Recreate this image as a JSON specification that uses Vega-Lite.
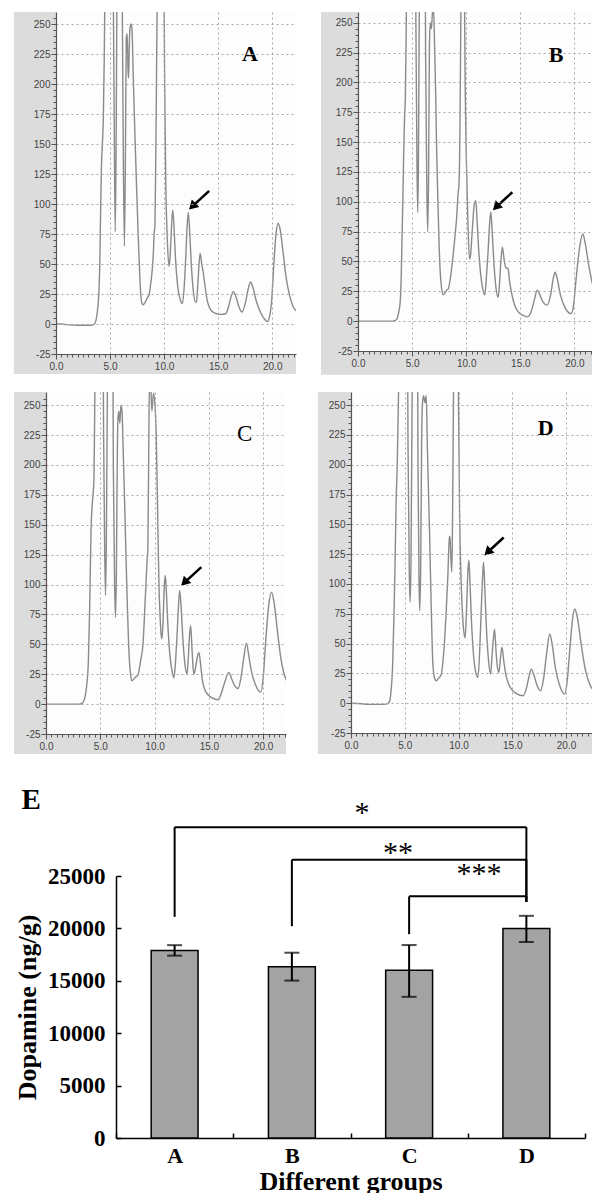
{
  "$schema": "https://vega.github.io/schema/vega-lite/v6.json",
  "padding": {"left": 13, "top": 11, "right": 0, "bottom": 0},
  "background": "white",
  "config": {"view": {"stroke": null}},
  "datasets": {
    "A": [
      {"t":0,"v":0},{"t":0.5,"v":0},{"t":1,"v":-0.5},{"t":2,"v":-1},{"t":3,"v":-1},{"t":3.4,"v":-0.8},{"t":3.6,"v":0.5},{"t":3.74,"v":5},{"t":3.88,"v":15},{"t":3.96,"v":25},{"t":4.05,"v":50},{"t":4.12,"v":90},{"t":4.2,"v":130},{"t":4.3,"v":152},{"t":4.38,"v":172},{"t":4.46,"v":220},{"t":4.55,"v":300},{"t":4.7,"v":400},
      {"t":5.2,"v":400},{"t":5.3,"v":280},{"t":5.4,"v":150},{"t":5.48,"v":77},{"t":5.56,"v":150},{"t":5.64,"v":280},{"t":5.75,"v":400},{"t":6.05,"v":400},{"t":6.12,"v":280},{"t":6.22,"v":150},{"t":6.33,"v":65},{"t":6.43,"v":150},{"t":6.5,"v":238},{"t":6.58,"v":242},{"t":6.66,"v":212},{"t":6.72,"v":205},{"t":6.78,"v":232},{"t":6.86,"v":248},{"t":6.95,"v":250},{"t":7.03,"v":245},{"t":7.15,"v":205},{"t":7.3,"v":158},{"t":7.45,"v":115},{"t":7.6,"v":75},{"t":7.75,"v":40},{"t":7.9,"v":19},{"t":8.05,"v":16},{"t":8.25,"v":18},{"t":8.45,"v":22},{"t":8.6,"v":24},{"t":8.75,"v":33},{"t":8.9,"v":45},{"t":9.0,"v":58},{"t":9.08,"v":76},{"t":9.14,"v":80},{"t":9.22,"v":130},{"t":9.32,"v":230},{"t":9.42,"v":320},{"t":9.6,"v":400},
      {"t":9.85,"v":400},{"t":9.98,"v":300},{"t":10.05,"v":200},{"t":10.15,"v":120},{"t":10.3,"v":70},{"t":10.45,"v":48},{"t":10.55,"v":55},{"t":10.68,"v":80},{"t":10.8,"v":95},{"t":10.92,"v":80},{"t":11.05,"v":55},{"t":11.25,"v":32},{"t":11.5,"v":20},{"t":11.7,"v":17},{"t":11.85,"v":30},{"t":12.0,"v":55},{"t":12.12,"v":80},{"t":12.24,"v":93},{"t":12.36,"v":78},{"t":12.5,"v":52},{"t":12.7,"v":28},{"t":12.9,"v":18},{"t":13.0,"v":19},{"t":13.15,"v":38},{"t":13.33,"v":59},{"t":13.48,"v":50},{"t":13.62,"v":43},{"t":13.78,"v":32},{"t":14.0,"v":19},{"t":14.3,"v":12},{"t":14.7,"v":9},{"t":15.2,"v":8},{"t":15.7,"v":8.5},{"t":15.95,"v":14},{"t":16.2,"v":23},{"t":16.4,"v":27},{"t":16.6,"v":24},{"t":16.9,"v":15},{"t":17.2,"v":10},{"t":17.5,"v":17},{"t":17.8,"v":30},{"t":18.0,"v":35},{"t":18.2,"v":31},{"t":18.5,"v":20},{"t":18.9,"v":10},{"t":19.3,"v":4},{"t":19.55,"v":2},{"t":19.75,"v":6},{"t":19.95,"v":20},{"t":20.15,"v":50},{"t":20.35,"v":75},{"t":20.55,"v":84},{"t":20.75,"v":78},{"t":21.0,"v":60},{"t":21.3,"v":38},{"t":21.6,"v":24},{"t":21.9,"v":15},{"t":22.2,"v":11}
    ],
    "B": [
      {"t":0,"v":0},{"t":1,"v":0},{"t":2,"v":0},{"t":3,"v":0},{"t":3.4,"v":0.5},{"t":3.6,"v":2},{"t":3.75,"v":7},{"t":3.9,"v":16},{"t":4.0,"v":40},{"t":4.07,"v":70},{"t":4.14,"v":100},{"t":4.22,"v":140},{"t":4.3,"v":170},{"t":4.38,"v":190},{"t":4.45,"v":240},{"t":4.52,"v":320},{"t":4.7,"v":400},
      {"t":5.25,"v":400},{"t":5.35,"v":250},{"t":5.45,"v":130},{"t":5.52,"v":91},{"t":5.58,"v":130},{"t":5.66,"v":260},{"t":5.8,"v":400},{"t":6.15,"v":400},{"t":6.25,"v":220},{"t":6.36,"v":110},{"t":6.44,"v":75},{"t":6.52,"v":120},{"t":6.6,"v":230},{"t":6.68,"v":250},{"t":6.78,"v":245},{"t":6.88,"v":258},{"t":6.98,"v":262},{"t":7.08,"v":230},{"t":7.18,"v":190},{"t":7.27,"v":142},{"t":7.4,"v":95},{"t":7.5,"v":62},{"t":7.58,"v":44},{"t":7.72,"v":28},{"t":7.88,"v":22},{"t":8.05,"v":24},{"t":8.2,"v":26},{"t":8.34,"v":27},{"t":8.5,"v":34},{"t":8.65,"v":44},{"t":8.8,"v":56},{"t":8.95,"v":70},{"t":9.11,"v":86},{"t":9.26,"v":108},{"t":9.33,"v":114},{"t":9.42,"v":160},{"t":9.5,"v":250},{"t":9.57,"v":320},{"t":9.7,"v":400},
      {"t":9.82,"v":300},{"t":9.9,"v":200},{"t":10.0,"v":140},{"t":10.15,"v":85},{"t":10.3,"v":52},{"t":10.4,"v":55},{"t":10.55,"v":75},{"t":10.75,"v":98},{"t":10.89,"v":101},{"t":11.0,"v":85},{"t":11.15,"v":60},{"t":11.35,"v":38},{"t":11.55,"v":26},{"t":11.72,"v":22},{"t":11.85,"v":35},{"t":12.0,"v":55},{"t":12.15,"v":80},{"t":12.27,"v":91.5},{"t":12.4,"v":75},{"t":12.55,"v":50},{"t":12.75,"v":28},{"t":12.94,"v":20},{"t":13.05,"v":28},{"t":13.2,"v":50},{"t":13.34,"v":62},{"t":13.5,"v":52},{"t":13.65,"v":45},{"t":13.87,"v":44},{"t":14.0,"v":34},{"t":14.17,"v":24.5},{"t":14.45,"v":14},{"t":14.79,"v":8},{"t":15.2,"v":5},{"t":15.7,"v":3.6},{"t":16.0,"v":8},{"t":16.3,"v":18},{"t":16.56,"v":26},{"t":16.8,"v":22},{"t":17.1,"v":16},{"t":17.48,"v":13.4},{"t":17.8,"v":22},{"t":18.05,"v":36},{"t":18.22,"v":41},{"t":18.4,"v":36},{"t":18.7,"v":22},{"t":19.1,"v":12},{"t":19.69,"v":6.4},{"t":19.9,"v":12},{"t":20.15,"v":35},{"t":20.45,"v":60},{"t":20.77,"v":73},{"t":21.0,"v":65},{"t":21.3,"v":48},{"t":21.55,"v":36},{"t":21.78,"v":27},{"t":21.9,"v":24}
    ],
    "C": [
      {"t":0,"v":0},{"t":1,"v":0},{"t":2,"v":0},{"t":3,"v":0},{"t":3.3,"v":0.5},{"t":3.54,"v":4},{"t":3.7,"v":12},{"t":3.9,"v":35},{"t":4.02,"v":80},{"t":4.15,"v":147},{"t":4.25,"v":166},{"t":4.37,"v":180},{"t":4.42,"v":191},{"t":4.48,"v":240},{"t":4.55,"v":320},{"t":4.7,"v":400},
      {"t":5.2,"v":400},{"t":5.3,"v":230},{"t":5.4,"v":130},{"t":5.48,"v":91},{"t":5.55,"v":130},{"t":5.65,"v":260},{"t":5.8,"v":400},{"t":6.1,"v":400},{"t":6.2,"v":200},{"t":6.32,"v":100},{"t":6.4,"v":72.6},{"t":6.48,"v":110},{"t":6.56,"v":200},{"t":6.62,"v":238},{"t":6.7,"v":245},{"t":6.8,"v":235},{"t":6.9,"v":250},{"t":7.0,"v":245},{"t":7.1,"v":215},{"t":7.25,"v":165},{"t":7.38,"v":119},{"t":7.5,"v":80},{"t":7.6,"v":52},{"t":7.69,"v":35},{"t":7.8,"v":24},{"t":7.9,"v":19.5},{"t":8.1,"v":21},{"t":8.3,"v":23},{"t":8.46,"v":24},{"t":8.6,"v":30},{"t":8.75,"v":38},{"t":8.92,"v":49},{"t":9.05,"v":70},{"t":9.15,"v":90},{"t":9.23,"v":105},{"t":9.32,"v":121.5},{"t":9.38,"v":130},{"t":9.45,"v":200},{"t":9.54,"v":280},{"t":9.65,"v":266},{"t":9.75,"v":245},{"t":9.9,"v":260},{"t":10.05,"v":248},{"t":10.15,"v":225},{"t":10.3,"v":150},{"t":10.4,"v":100},{"t":10.5,"v":75},{"t":10.6,"v":58},{"t":10.68,"v":54.5},{"t":10.78,"v":70},{"t":10.9,"v":100},{"t":10.98,"v":107.5},{"t":11.08,"v":95},{"t":11.2,"v":70},{"t":11.4,"v":42},{"t":11.6,"v":28},{"t":11.78,"v":22},{"t":11.9,"v":32},{"t":12.05,"v":55},{"t":12.2,"v":82},{"t":12.31,"v":95},{"t":12.45,"v":80},{"t":12.6,"v":55},{"t":12.8,"v":33},{"t":12.98,"v":25},{"t":13.1,"v":38},{"t":13.22,"v":58},{"t":13.32,"v":65.6},{"t":13.45,"v":45},{"t":13.55,"v":30},{"t":13.63,"v":25},{"t":13.8,"v":32},{"t":13.95,"v":40},{"t":14.09,"v":43},{"t":14.25,"v":32},{"t":14.4,"v":20},{"t":14.6,"v":12.6},{"t":14.9,"v":8},{"t":15.23,"v":5.6},{"t":15.85,"v":3.6},{"t":16.1,"v":8},{"t":16.45,"v":18},{"t":16.83,"v":26.5},{"t":17.1,"v":21},{"t":17.4,"v":15},{"t":17.69,"v":13},{"t":17.95,"v":22},{"t":18.2,"v":38},{"t":18.46,"v":51},{"t":18.65,"v":42},{"t":18.9,"v":28},{"t":19.3,"v":16},{"t":19.78,"v":10},{"t":20.0,"v":22},{"t":20.25,"v":55},{"t":20.5,"v":82},{"t":20.77,"v":93.6},{"t":21.0,"v":85},{"t":21.3,"v":62},{"t":21.6,"v":40},{"t":21.9,"v":26},{"t":22.15,"v":19.5}
    ],
    "D": [
      {"t":0,"v":0},{"t":1,"v":-0.5},{"t":1.5,"v":-1},{"t":2.5,"v":-1},{"t":3.3,"v":-0.8},{"t":3.57,"v":1},{"t":3.7,"v":8},{"t":3.88,"v":34},{"t":4.0,"v":75},{"t":4.1,"v":118},{"t":4.2,"v":170},{"t":4.3,"v":200},{"t":4.36,"v":230},{"t":4.42,"v":260},{"t":4.5,"v":320},{"t":4.7,"v":400},
      {"t":5.2,"v":400},{"t":5.3,"v":220},{"t":5.42,"v":110},{"t":5.5,"v":84.6},{"t":5.58,"v":120},{"t":5.68,"v":250},{"t":5.8,"v":400},{"t":6.15,"v":400},{"t":6.23,"v":200},{"t":6.33,"v":100},{"t":6.4,"v":77.6},{"t":6.48,"v":115},{"t":6.57,"v":220},{"t":6.65,"v":252},{"t":6.75,"v":258},{"t":6.88,"v":252},{"t":7.0,"v":258},{"t":7.1,"v":215},{"t":7.2,"v":180},{"t":7.3,"v":146},{"t":7.45,"v":85},{"t":7.61,"v":34},{"t":7.75,"v":22},{"t":7.92,"v":18.8},{"t":8.15,"v":21},{"t":8.39,"v":24},{"t":8.55,"v":35},{"t":8.7,"v":52},{"t":8.85,"v":76},{"t":9.0,"v":105},{"t":9.12,"v":135},{"t":9.16,"v":140},{"t":9.22,"v":138},{"t":9.3,"v":120},{"t":9.38,"v":110},{"t":9.45,"v":160},{"t":9.55,"v":280},{"t":9.63,"v":400},
      {"t":9.9,"v":400},{"t":10.0,"v":250},{"t":10.1,"v":160},{"t":10.25,"v":100},{"t":10.4,"v":70},{"t":10.52,"v":58},{"t":10.62,"v":55},{"t":10.75,"v":80},{"t":10.88,"v":112},{"t":10.96,"v":120},{"t":11.05,"v":105},{"t":11.2,"v":70},{"t":11.4,"v":40},{"t":11.6,"v":26},{"t":11.8,"v":21.6},{"t":11.95,"v":40},{"t":12.1,"v":75},{"t":12.25,"v":108},{"t":12.33,"v":118},{"t":12.45,"v":95},{"t":12.6,"v":62},{"t":12.8,"v":35},{"t":12.98,"v":24.4},{"t":13.12,"v":40},{"t":13.25,"v":55},{"t":13.35,"v":62},{"t":13.5,"v":42},{"t":13.62,"v":30},{"t":13.76,"v":25.8},{"t":13.9,"v":38},{"t":14.04,"v":47},{"t":14.2,"v":36},{"t":14.4,"v":24},{"t":14.6,"v":17.4},{"t":14.9,"v":12},{"t":15.4,"v":8},{"t":16.0,"v":6.2},{"t":16.3,"v":12},{"t":16.55,"v":22},{"t":16.77,"v":28.6},{"t":17.0,"v":24},{"t":17.3,"v":15},{"t":17.64,"v":10.4},{"t":17.9,"v":20},{"t":18.2,"v":42},{"t":18.48,"v":58},{"t":18.7,"v":50},{"t":19.0,"v":30},{"t":19.4,"v":15},{"t":19.88,"v":7.6},{"t":20.1,"v":18},{"t":20.35,"v":45},{"t":20.6,"v":70},{"t":20.81,"v":79},{"t":21.05,"v":72},{"t":21.4,"v":50},{"t":21.8,"v":28},{"t":22.2,"v":16},{"t":22.6,"v":10}
    ],
    "groups": [
      {"group":"A","mean":17900,"lo":17400,"hi":18400},
      {"group":"B","mean":16350,"lo":15020,"hi":17680},
      {"group":"C","mean":16000,"lo":13470,"hi":18410},
      {"group":"D","mean":20000,"lo":18700,"hi":21200}
    ],
    "brackets": [
      {"from":"A","to":"D","level":29660,"endFrom":21100,"endTo":22530},
      {"from":"B","to":"D","level":26550,"endFrom":20210,"endTo":22530},
      {"from":"C","to":"D","level":23060,"endFrom":19450,"endTo":22530}
    ]
  },
  "concat": [
    {
      "concat": [
        {
          "spacing": 23,
          "hconcat": [
            {
              "width": 250, "height": 342,
              "layer": [
                {"data": {"values": [{}]}, "mark": {"type": "rect", "color": "#dcdcdc"},
                 "encoding": {
                   "x": {"datum": -3.9, "type": "quantitative", "scale": {"domain": [0, 22.2], "range": [10, 250], "nice": false, "zero": false}, "title": null},
                   "x2": {"datum": 22.2},
                   "y": {"datum": -41.7, "type": "quantitative", "scale": {"domain": [-25, 260], "nice": false, "zero": false}, "title": null},
                   "y2": {"datum": 260}}},
                {"data": {"values": [{}]}, "mark": {"type": "rect", "color": "#fdfdfd"},
                 "encoding": {
                   "x": {"datum": 0, "type": "quantitative", "scale": {"domain": [0, 22.2], "range": [10, 250], "nice": false, "zero": false}, "title": null},
                   "x2": {"datum": 22.2},
                   "y": {"datum": -25, "type": "quantitative", "scale": {"domain": [-25, 260], "nice": false, "zero": false}, "title": null},
                   "y2": {"datum": 260}}},
                {"data": {"name": "A"}, "mark": {"type": "line", "color": "#8a8a8a", "strokeWidth": 1.4, "clip": true, "interpolate": "monotone"},
                 "encoding": {
                   "x": {"field": "t", "type": "quantitative", "scale": {"domain": [0, 22.2], "range": [10, 250], "nice": false, "zero": false}, "title": null,
                     "axis": {"values": [0,0.5,1,1.5,2,2.5,3,3.5,4,4.5,5,5.5,6,6.5,7,7.5,8,8.5,9,9.5,10,10.5,11,11.5,12,12.5,13,13.5,14,14.5,15,15.5,16,16.5,17,17.5,18,18.5,19,19.5,20,20.5,21,21.5,22], "tickCount": 500,
                       "labelExpr": "datum.value % 5 === 0 ? format(datum.value, '.1f') : ''", "labelOverlap": false, "labelFlush": false, "labelBound": false,
                       "tickSize": {"condition": {"test": "datum.value % 5 === 0", "value": 5}, "value": 3}, "tickColor": "#555", "domainColor": "#555", "domainWidth": 1.2,
                       "grid": true, "gridColor": "#a8a8a8", "gridDash": [2, 3], "gridOpacity": {"condition": {"test": "datum.value % 5 === 0 && datum.value > 0", "value": 1}, "value": 0},
                       "labelFont": "Liberation Sans", "labelFontSize": 10, "labelColor": "#444", "labelPadding": 2, "zindex": 1}},
                   "y": {"field": "v", "type": "quantitative", "scale": {"domain": [-25, 260], "nice": false, "zero": false}, "title": null,
                     "axis": {"offset": -10, "values": [-25,-20,-15,-10,-5,0,5,10,15,20,25,30,35,40,45,50,55,60,65,70,75,80,85,90,95,100,105,110,115,120,125,130,135,140,145,150,155,160,165,170,175,180,185,190,195,200,205,210,215,220,225,230,235,240,245,250,255], "tickCount": 500,
                       "labelExpr": "datum.value % 25 === 0 ? datum.value : ''", "labelOverlap": false, "labelFlush": false, "labelBound": false,
                       "tickSize": {"condition": {"test": "datum.value % 25 === 0", "value": 5}, "value": 3}, "tickColor": "#555", "domainColor": "#555", "domainWidth": 1.2,
                       "grid": true, "gridColor": "#a8a8a8", "gridDash": [2, 3], "gridOpacity": {"condition": {"test": "datum.value % 25 === 0 && datum.value > -25", "value": 1}, "value": 0},
                       "labelFont": "Liberation Sans", "labelFontSize": 10, "labelColor": "#444", "labelPadding": 1, "zindex": 1}}}},
                {"data": {"values": [{}]}, "mark": {"type": "rule", "color": "black", "strokeWidth": 2.5},
                 "encoding": {
                   "x": {"datum": 14.17, "type": "quantitative", "scale": {"domain": [0, 22.2], "range": [10, 250], "nice": false, "zero": false}, "title": null},
                   "x2": {"datum": 12.61},
                   "y": {"datum": 111, "type": "quantitative", "scale": {"domain": [-25, 260], "nice": false, "zero": false}, "title": null},
                   "y2": {"datum": 98}}},
                {"data": {"values": [{}]}, "mark": {"type": "point", "shape": "triangle-up", "filled": true, "color": "black", "opacity": 1, "size": 110, "angle": 225},
                 "encoding": {
                   "x": {"datum": 12.61, "type": "quantitative", "scale": {"domain": [0, 22.2], "range": [10, 250], "nice": false, "zero": false}, "title": null},
                   "y": {"datum": 98, "type": "quantitative", "scale": {"domain": [-25, 260], "nice": false, "zero": false}, "title": null}}},
                {"data": {"values": [{}]}, "mark": {"type": "text", "text": "A", "font": "Liberation Serif", "fontSize": 22, "fontWeight": "bold", "color": "black", "align": "center", "baseline": "middle"},
                 "encoding": {
                   "x": {"datum": 17.95, "type": "quantitative", "scale": {"domain": [0, 22.2], "range": [10, 250], "nice": false, "zero": false}, "title": null},
                   "y": {"datum": 225, "type": "quantitative", "scale": {"domain": [-25, 260], "nice": false, "zero": false}, "title": null}}}
              ]
            },
            {
              "width": 237, "height": 339,
              "layer": [
                {"data": {"values": [{}]}, "mark": {"type": "rect", "color": "#dcdcdc"},
                 "encoding": {
                   "x": {"datum": -3.42, "type": "quantitative", "scale": {"domain": [0, 21.9], "nice": false, "zero": false}, "title": null},
                   "x2": {"datum": 21.9},
                   "y": {"datum": -45, "type": "quantitative", "scale": {"domain": [-25, 259], "nice": false, "zero": false}, "title": null},
                   "y2": {"datum": 259}}},
                {"data": {"values": [{}]}, "mark": {"type": "rect", "color": "#fdfdfd"},
                 "encoding": {
                   "x": {"datum": 0, "type": "quantitative", "scale": {"domain": [0, 21.9], "nice": false, "zero": false}, "title": null},
                   "x2": {"datum": 21.9},
                   "y": {"datum": -25, "type": "quantitative", "scale": {"domain": [-25, 259], "nice": false, "zero": false}, "title": null},
                   "y2": {"datum": 259}}},
                {"data": {"name": "B"}, "mark": {"type": "line", "color": "#8a8a8a", "strokeWidth": 1.4, "clip": true, "interpolate": "monotone"},
                 "encoding": {
                   "x": {"field": "t", "type": "quantitative", "scale": {"domain": [0, 21.9], "nice": false, "zero": false}, "title": null,
                     "axis": {"values": [0,0.5,1,1.5,2,2.5,3,3.5,4,4.5,5,5.5,6,6.5,7,7.5,8,8.5,9,9.5,10,10.5,11,11.5,12,12.5,13,13.5,14,14.5,15,15.5,16,16.5,17,17.5,18,18.5,19,19.5,20,20.5,21,21.5], "tickCount": 500,
                       "labelExpr": "datum.value % 5 === 0 ? format(datum.value, '.1f') : ''", "labelOverlap": false, "labelFlush": false, "labelBound": false,
                       "tickSize": {"condition": {"test": "datum.value % 5 === 0", "value": 5}, "value": 3}, "tickColor": "#555", "domainColor": "#555", "domainWidth": 1.2,
                       "grid": true, "gridColor": "#a8a8a8", "gridDash": [2, 3], "gridOpacity": {"condition": {"test": "datum.value % 5 === 0 && datum.value > 0", "value": 1}, "value": 0},
                       "labelFont": "Liberation Sans", "labelFontSize": 10, "labelColor": "#444", "labelPadding": 2, "zindex": 1}},
                   "y": {"field": "v", "type": "quantitative", "scale": {"domain": [-25, 259], "nice": false, "zero": false}, "title": null,
                     "axis": {"values": [-25,-20,-15,-10,-5,0,5,10,15,20,25,30,35,40,45,50,55,60,65,70,75,80,85,90,95,100,105,110,115,120,125,130,135,140,145,150,155,160,165,170,175,180,185,190,195,200,205,210,215,220,225,230,235,240,245,250,255], "tickCount": 500,
                       "labelExpr": "datum.value % 25 === 0 ? datum.value : ''", "labelOverlap": false, "labelFlush": false, "labelBound": false,
                       "tickSize": {"condition": {"test": "datum.value % 25 === 0", "value": 5}, "value": 3}, "tickColor": "#555", "domainColor": "#555", "domainWidth": 1.2,
                       "grid": true, "gridColor": "#a8a8a8", "gridDash": [2, 3], "gridOpacity": {"condition": {"test": "datum.value % 25 === 0 && datum.value > -25", "value": 1}, "value": 0},
                       "labelFont": "Liberation Sans", "labelFontSize": 10, "labelColor": "#444", "labelPadding": 1, "zindex": 1}}}},
                {"data": {"values": [{}]}, "mark": {"type": "rule", "color": "black", "strokeWidth": 2.5},
                 "encoding": {
                   "x": {"datum": 14.26, "type": "quantitative", "scale": {"domain": [0, 21.9], "nice": false, "zero": false}, "title": null},
                   "x2": {"datum": 12.76},
                   "y": {"datum": 108, "type": "quantitative", "scale": {"domain": [-25, 259], "nice": false, "zero": false}, "title": null},
                   "y2": {"datum": 95.6}}},
                {"data": {"values": [{}]}, "mark": {"type": "point", "shape": "triangle-up", "filled": true, "color": "black", "opacity": 1, "size": 110, "angle": 225},
                 "encoding": {
                   "x": {"datum": 12.76, "type": "quantitative", "scale": {"domain": [0, 21.9], "nice": false, "zero": false}, "title": null},
                   "y": {"datum": 95.6, "type": "quantitative", "scale": {"domain": [-25, 259], "nice": false, "zero": false}, "title": null}}},
                {"data": {"values": [{}]}, "mark": {"type": "text", "text": "B", "font": "Liberation Serif", "fontSize": 22, "fontWeight": "bold", "color": "black", "align": "center", "baseline": "middle"},
                 "encoding": {
                   "x": {"datum": 18.3, "type": "quantitative", "scale": {"domain": [0, 21.9], "nice": false, "zero": false}, "title": null},
                   "y": {"datum": 223, "type": "quantitative", "scale": {"domain": [-25, 259], "nice": false, "zero": false}, "title": null}}}
              ]
            }
          ]
        },
        {
          "spacing": 31,
          "hconcat": [
            {
              "width": 240, "height": 342,
              "layer": [
                {"data": {"values": [{}]}, "mark": {"type": "rect", "color": "#dcdcdc"},
                 "encoding": {
                   "x": {"datum": -2.94, "type": "quantitative", "scale": {"domain": [0, 22.1], "nice": false, "zero": false}, "title": null},
                   "x2": {"datum": 22.1},
                   "y": {"datum": -41.7, "type": "quantitative", "scale": {"domain": [-25, 261], "nice": false, "zero": false}, "title": null},
                   "y2": {"datum": 261}}},
                {"data": {"values": [{}]}, "mark": {"type": "rect", "color": "#fdfdfd"},
                 "encoding": {
                   "x": {"datum": 0, "type": "quantitative", "scale": {"domain": [0, 22.1], "nice": false, "zero": false}, "title": null},
                   "x2": {"datum": 22.1},
                   "y": {"datum": -25, "type": "quantitative", "scale": {"domain": [-25, 261], "nice": false, "zero": false}, "title": null},
                   "y2": {"datum": 261}}},
                {"data": {"name": "C"}, "mark": {"type": "line", "color": "#8a8a8a", "strokeWidth": 1.4, "clip": true, "interpolate": "monotone"},
                 "encoding": {
                   "x": {"field": "t", "type": "quantitative", "scale": {"domain": [0, 22.1], "nice": false, "zero": false}, "title": null,
                     "axis": {"values": [0,0.5,1,1.5,2,2.5,3,3.5,4,4.5,5,5.5,6,6.5,7,7.5,8,8.5,9,9.5,10,10.5,11,11.5,12,12.5,13,13.5,14,14.5,15,15.5,16,16.5,17,17.5,18,18.5,19,19.5,20,20.5,21,21.5,22], "tickCount": 500,
                       "labelExpr": "datum.value % 5 === 0 ? format(datum.value, '.1f') : ''", "labelOverlap": false, "labelFlush": false, "labelBound": false,
                       "tickSize": {"condition": {"test": "datum.value % 5 === 0", "value": 5}, "value": 3}, "tickColor": "#555", "domainColor": "#555", "domainWidth": 1.2,
                       "grid": true, "gridColor": "#a8a8a8", "gridDash": [2, 3], "gridOpacity": {"condition": {"test": "datum.value % 5 === 0 && datum.value > 0", "value": 1}, "value": 0},
                       "labelFont": "Liberation Sans", "labelFontSize": 10, "labelColor": "#444", "labelPadding": 2, "zindex": 1}},
                   "y": {"field": "v", "type": "quantitative", "scale": {"domain": [-25, 261], "nice": false, "zero": false}, "title": null,
                     "axis": {"values": [-25,-20,-15,-10,-5,0,5,10,15,20,25,30,35,40,45,50,55,60,65,70,75,80,85,90,95,100,105,110,115,120,125,130,135,140,145,150,155,160,165,170,175,180,185,190,195,200,205,210,215,220,225,230,235,240,245,250,255], "tickCount": 500,
                       "labelExpr": "datum.value % 25 === 0 ? datum.value : ''", "labelOverlap": false, "labelFlush": false, "labelBound": false,
                       "tickSize": {"condition": {"test": "datum.value % 25 === 0", "value": 5}, "value": 3}, "tickColor": "#555", "domainColor": "#555", "domainWidth": 1.2,
                       "grid": true, "gridColor": "#a8a8a8", "gridDash": [2, 3], "gridOpacity": {"condition": {"test": "datum.value % 25 === 0 && datum.value > -25", "value": 1}, "value": 0},
                       "labelFont": "Liberation Sans", "labelFontSize": 10, "labelColor": "#444", "labelPadding": 1, "zindex": 1}}}},
                {"data": {"values": [{}]}, "mark": {"type": "rule", "color": "black", "strokeWidth": 2.5},
                 "encoding": {
                   "x": {"datum": 14.3, "type": "quantitative", "scale": {"domain": [0, 22.1], "nice": false, "zero": false}, "title": null},
                   "x2": {"datum": 12.74},
                   "y": {"datum": 114.5, "type": "quantitative", "scale": {"domain": [-25, 261], "nice": false, "zero": false}, "title": null},
                   "y2": {"datum": 101.6}}},
                {"data": {"values": [{}]}, "mark": {"type": "point", "shape": "triangle-up", "filled": true, "color": "black", "opacity": 1, "size": 110, "angle": 225},
                 "encoding": {
                   "x": {"datum": 12.74, "type": "quantitative", "scale": {"domain": [0, 22.1], "nice": false, "zero": false}, "title": null},
                   "y": {"datum": 101.6, "type": "quantitative", "scale": {"domain": [-25, 261], "nice": false, "zero": false}, "title": null}}},
                {"data": {"values": [{}]}, "mark": {"type": "text", "text": "C", "font": "Liberation Serif", "fontSize": 23, "fontWeight": "normal", "color": "black", "align": "center", "baseline": "middle"},
                 "encoding": {
                   "x": {"datum": 18.3, "type": "quantitative", "scale": {"domain": [0, 22.1], "nice": false, "zero": false}, "title": null},
                   "y": {"datum": 226, "type": "quantitative", "scale": {"domain": [-25, 261], "nice": false, "zero": false}, "title": null}}}
              ]
            },
            {
              "width": 243, "height": 341,
              "layer": [
                {"data": {"values": [{}]}, "mark": {"type": "rect", "color": "#dcdcdc"},
                 "encoding": {
                   "x": {"datum": -3.08, "type": "quantitative", "scale": {"domain": [0, 22.6], "nice": false, "zero": false}, "title": null},
                   "x2": {"datum": 22.6},
                   "y": {"datum": -42.6, "type": "quantitative", "scale": {"domain": [-25, 261], "nice": false, "zero": false}, "title": null},
                   "y2": {"datum": 261}}},
                {"data": {"values": [{}]}, "mark": {"type": "rect", "color": "#fdfdfd"},
                 "encoding": {
                   "x": {"datum": 0, "type": "quantitative", "scale": {"domain": [0, 22.6], "nice": false, "zero": false}, "title": null},
                   "x2": {"datum": 22.6},
                   "y": {"datum": -25, "type": "quantitative", "scale": {"domain": [-25, 261], "nice": false, "zero": false}, "title": null},
                   "y2": {"datum": 261}}},
                {"data": {"name": "D"}, "mark": {"type": "line", "color": "#8a8a8a", "strokeWidth": 1.4, "clip": true, "interpolate": "monotone"},
                 "encoding": {
                   "x": {"field": "t", "type": "quantitative", "scale": {"domain": [0, 22.6], "nice": false, "zero": false}, "title": null,
                     "axis": {"values": [0,0.5,1,1.5,2,2.5,3,3.5,4,4.5,5,5.5,6,6.5,7,7.5,8,8.5,9,9.5,10,10.5,11,11.5,12,12.5,13,13.5,14,14.5,15,15.5,16,16.5,17,17.5,18,18.5,19,19.5,20,20.5,21,21.5,22,22.5], "tickCount": 500,
                       "labelExpr": "datum.value % 5 === 0 ? format(datum.value, '.1f') : ''", "labelOverlap": false, "labelFlush": false, "labelBound": false,
                       "tickSize": {"condition": {"test": "datum.value % 5 === 0", "value": 5}, "value": 3}, "tickColor": "#555", "domainColor": "#555", "domainWidth": 1.2,
                       "grid": true, "gridColor": "#a8a8a8", "gridDash": [2, 3], "gridOpacity": {"condition": {"test": "datum.value % 5 === 0 && datum.value > 0", "value": 1}, "value": 0},
                       "labelFont": "Liberation Sans", "labelFontSize": 10, "labelColor": "#444", "labelPadding": 2, "zindex": 1}},
                   "y": {"field": "v", "type": "quantitative", "scale": {"domain": [-25, 261], "nice": false, "zero": false}, "title": null,
                     "axis": {"values": [-25,-20,-15,-10,-5,0,5,10,15,20,25,30,35,40,45,50,55,60,65,70,75,80,85,90,95,100,105,110,115,120,125,130,135,140,145,150,155,160,165,170,175,180,185,190,195,200,205,210,215,220,225,230,235,240,245,250,255], "tickCount": 500,
                       "labelExpr": "datum.value % 25 === 0 ? datum.value : ''", "labelOverlap": false, "labelFlush": false, "labelBound": false,
                       "tickSize": {"condition": {"test": "datum.value % 25 === 0", "value": 5}, "value": 3}, "tickColor": "#555", "domainColor": "#555", "domainWidth": 1.2,
                       "grid": true, "gridColor": "#a8a8a8", "gridDash": [2, 3], "gridOpacity": {"condition": {"test": "datum.value % 25 === 0 && datum.value > -25", "value": 1}, "value": 0},
                       "labelFont": "Liberation Sans", "labelFontSize": 10, "labelColor": "#444", "labelPadding": 1, "zindex": 1}}}},
                {"data": {"values": [{}]}, "mark": {"type": "rule", "color": "black", "strokeWidth": 2.5},
                 "encoding": {
                   "x": {"datum": 14.2, "type": "quantitative", "scale": {"domain": [0, 22.6], "nice": false, "zero": false}, "title": null},
                   "x2": {"datum": 12.71},
                   "y": {"datum": 139, "type": "quantitative", "scale": {"domain": [-25, 261], "nice": false, "zero": false}, "title": null},
                   "y2": {"datum": 126.6}}},
                {"data": {"values": [{}]}, "mark": {"type": "point", "shape": "triangle-up", "filled": true, "color": "black", "opacity": 1, "size": 110, "angle": 225},
                 "encoding": {
                   "x": {"datum": 12.71, "type": "quantitative", "scale": {"domain": [0, 22.6], "nice": false, "zero": false}, "title": null},
                   "y": {"datum": 126.6, "type": "quantitative", "scale": {"domain": [-25, 261], "nice": false, "zero": false}, "title": null}}},
                {"data": {"values": [{}]}, "mark": {"type": "text", "text": "D", "font": "Liberation Serif", "fontSize": 22, "fontWeight": "bold", "color": "black", "align": "center", "baseline": "middle"},
                 "encoding": {
                   "x": {"datum": 18.1, "type": "quantitative", "scale": {"domain": [0, 22.6], "nice": false, "zero": false}, "title": null},
                   "y": {"datum": 231, "type": "quantitative", "scale": {"domain": [-25, 261], "nice": false, "zero": false}, "title": null}}}
              ]
            }
          ]
        }
      ],
      "columns": 1,
      "align": "none",
      "spacing": 17
    },
    {
      "width": 539, "height": 262,
      "title": {"text": "E", "anchor": "start", "frame": "bounds", "font": "Liberation Serif", "fontSize": 29, "fontWeight": "bold", "color": "black", "offset": 0, "dx": 7, "dy": 17},
      "layer": [
        {"data": {"name": "groups"}, "mark": {"type": "bar", "width": {"band": 0.4}, "fill": "#a3a3a3", "stroke": "black", "strokeWidth": 1.5},
         "encoding": {
           "x": {"field": "group", "type": "nominal", "scale": {"type": "band", "paddingInner": 0, "paddingOuter": 0, "range": [70, 539]}, "title": "Different groups",
             "axis": {"labelAngle": 0, "tickBand": "extent", "tickSize": -5, "tickColor": "black", "tickWidth": 1.5, "domainColor": "black", "domainWidth": 1.5,
               "labelFont": "Liberation Serif", "labelFontSize": 22, "labelFontWeight": "bold", "labelColor": "black", "labelPadding": 12,
               "titleFont": "Liberation Serif", "titleFontSize": 26, "titleFontWeight": "bold", "titleColor": "black", "titlePadding": 2}},
           "y": {"field": "mean", "type": "quantitative", "scale": {"domain": [0, 25000], "nice": false}, "title": "Dopamine (ng/g)",
             "axis": {"offset": -70, "values": [0, 5000, 10000, 15000, 20000, 25000], "format": "d", "grid": false, "tickSize": -5, "tickColor": "black", "tickWidth": 1.5,
               "domainColor": "black", "domainWidth": 1.5, "labelFont": "Liberation Serif", "labelFontSize": 23, "labelFontWeight": "bold", "labelColor": "black", "labelPadding": 16,
               "titleFont": "Liberation Serif", "titleFontSize": 26, "titleFontWeight": "bold", "titleColor": "black", "titlePadding": 7}}}},
        {"data": {"name": "groups"}, "mark": {"type": "rule", "color": "black", "strokeWidth": 2},
         "encoding": {"x": {"field": "group", "type": "nominal"}, "y": {"field": "lo", "type": "quantitative"}, "y2": {"field": "hi"}}},
        {"data": {"name": "groups"}, "mark": {"type": "tick", "color": "black", "size": 15, "thickness": 2},
         "encoding": {"x": {"field": "group", "type": "nominal"}, "y": {"field": "lo", "type": "quantitative"}}},
        {"data": {"name": "groups"}, "mark": {"type": "tick", "color": "black", "size": 15, "thickness": 2},
         "encoding": {"x": {"field": "group", "type": "nominal"}, "y": {"field": "hi", "type": "quantitative"}}},
        {"data": {"name": "brackets"}, "mark": {"type": "rule", "color": "black", "strokeWidth": 2},
         "encoding": {"x": {"field": "from", "type": "nominal", "bandPosition": 0.5}, "x2": {"field": "to", "bandPosition": 0.5}, "y": {"field": "level", "type": "quantitative"}}},
        {"data": {"name": "brackets"}, "mark": {"type": "rule", "color": "black", "strokeWidth": 2},
         "encoding": {"x": {"field": "from", "type": "nominal"}, "y": {"field": "level", "type": "quantitative"}, "y2": {"field": "endFrom"}}},
        {"data": {"name": "brackets"}, "mark": {"type": "rule", "color": "black", "strokeWidth": 2},
         "encoding": {"x": {"field": "to", "type": "nominal"}, "y": {"field": "level", "type": "quantitative"}, "y2": {"field": "endTo"}}},
        {"data": {"values": [{}]}, "mark": {"type": "text", "text": "*", "font": "Liberation Serif", "fontSize": 30, "color": "black", "align": "center", "baseline": "alphabetic"},
         "encoding": {"x": {"datum": "C", "type": "nominal", "bandPosition": 0.098}, "y": {"datum": 30150, "type": "quantitative"}}},
        {"data": {"values": [{}]}, "mark": {"type": "text", "text": "**", "font": "Liberation Serif", "fontSize": 30, "color": "black", "align": "center", "baseline": "alphabetic"},
         "encoding": {"x": {"datum": "C", "type": "nominal", "bandPosition": 0.405}, "y": {"datum": 26300, "type": "quantitative"}}},
        {"data": {"values": [{}]}, "mark": {"type": "text", "text": "***", "font": "Liberation Serif", "fontSize": 30, "color": "black", "align": "center", "baseline": "alphabetic"},
         "encoding": {"x": {"datum": "D", "type": "nominal", "bandPosition": 0.096}, "y": {"datum": 24300, "type": "quantitative"}}}
      ]
    }
  ],
  "columns": 1,
  "align": "none",
  "spacing": 32
}
